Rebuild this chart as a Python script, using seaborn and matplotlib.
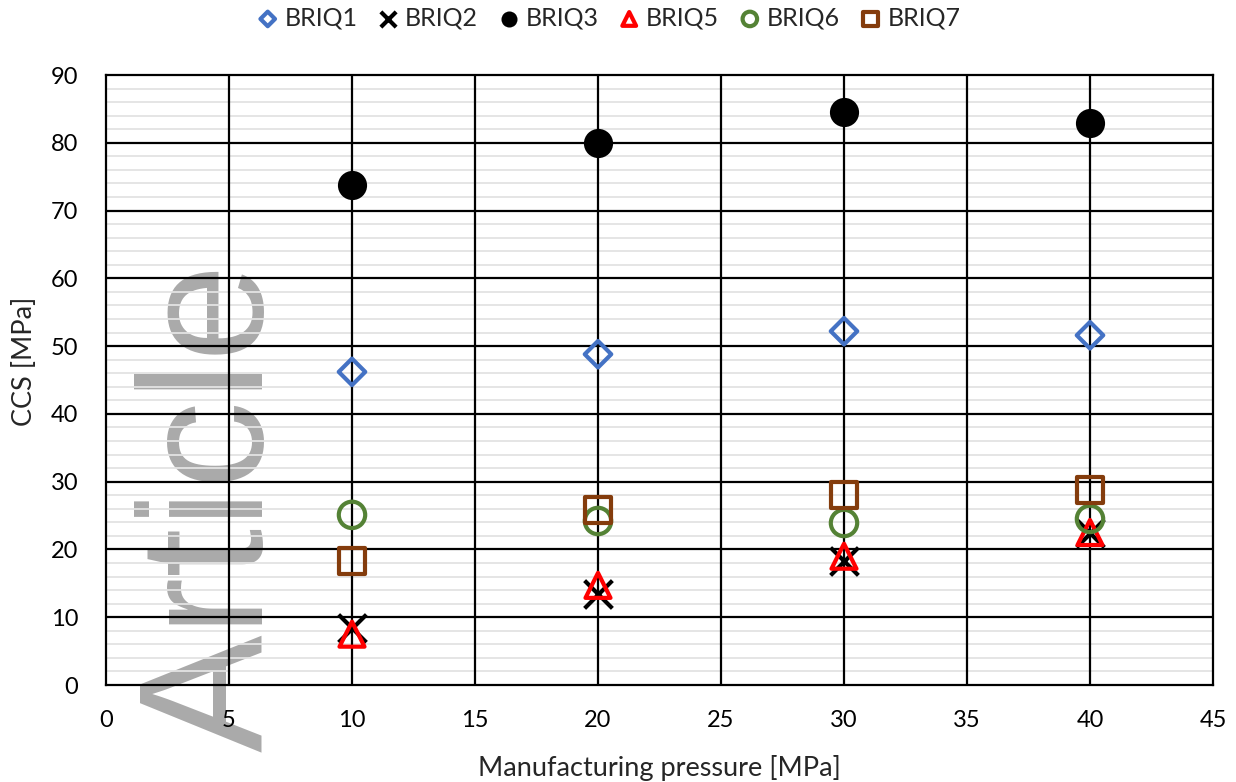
import matplotlib
matplotlib.use("Agg")
import matplotlib.pyplot as plt
import seaborn as sns
from matplotlib.ticker import MultipleLocator

# =========================
# DATA
# =========================
pressure = [10, 20, 30, 40]

briq1 = [46.2, 48.8, 52.2, 51.6]
briq2 = [8.4, 13.4, 18.3, 22.4]
briq3 = [73.8, 79.9, 84.6, 82.9]
briq5 = [7.5, 14.7, 19.0, 22.5]
briq6 = [25.1, 24.2, 23.9, 24.5]
briq7 = [18.3, 25.8, 28.0, 28.8]

series_names = ["BRIQ1", "BRIQ2", "BRIQ3", "BRIQ5", "BRIQ6", "BRIQ7"]
series_values = [briq1, briq2, briq3, briq5, briq6, briq7]

# marker, colour, filled?, size (pt)
styles = {
    "BRIQ1": ("D", "#4472C4", False, 13.5),
    "BRIQ2": ("x", "#000000", None, 20),
    "BRIQ3": ("o", "#000000", True, 21),
    "BRIQ5": ("^", "#FF0000", False, 18),
    "BRIQ6": ("o", "#548235", False, 19),
    "BRIQ7": ("s", "#843C0C", False, 18.5),
}

# =========================
# STYLE
# =========================
sns.set_style("white")
plt.rcParams["font.family"] = ["Lato", "DejaVu Sans"]

fig = plt.figure(figsize=(12.36, 7.82), dpi=100)
ax = fig.add_axes([106 / 1236, 97 / 782, 1107 / 1236, 610 / 782])

for name, vals in zip(series_names, series_values):
    marker, color, filled, ms = styles[name]
    kw = dict(x=pressure, y=vals, marker=marker, s=ms ** 2, ax=ax,
              label=name, zorder=3, clip_on=False)
    if filled is None:
        kw.update(color=color, linewidth=3)
    elif filled:
        kw.update(color=color, edgecolor=color, linewidth=0)
    else:
        kw.update(color=color, facecolor="none", edgecolor=color, linewidth=3)
    sns.scatterplot(**kw)

# =========================
# AXES
# =========================
ax.set_xlim(0, 45)
ax.set_ylim(0, 90)
ax.xaxis.set_major_locator(MultipleLocator(5))
ax.yaxis.set_major_locator(MultipleLocator(10))
ax.yaxis.set_minor_locator(MultipleLocator(2))
ax.set_axisbelow(True)
# light minor grid sits with the axis, black major grid drawn on top of it
ax.grid(which="minor", axis="y", color="#e3e3e3", linewidth=1.3)
ax.grid(which="major", visible=False)
for xv in ax.get_xticks():
    if 0 < xv < 45:
        ax.axvline(xv, color="black", linewidth=1.6, zorder=1)
for yv in ax.get_yticks():
    if 0 < yv < 90:
        ax.axhline(yv, color="black", linewidth=1.6, zorder=1)
for sp in ax.spines.values():
    sp.set_color("black")
    sp.set_linewidth(1.6)
    sp.set_zorder(1)
ax.tick_params(which="both", length=0, labelsize=17, colors="black")
ax.tick_params(axis="y", pad=20)
ax.tick_params(axis="x", pad=18)

ax.set_xlabel("Manufacturing pressure [MPa]", fontsize=19.5, va="center")
ax.set_ylabel("CCS [MPa]", fontsize=19.5, va="center")
ax.xaxis.set_label_coords(0.5, -0.136)
ax.yaxis.set_label_coords(-0.074, 0.53)

# watermark
ax.text(263 / 1236, 30 / 782, "Article", transform=fig.transFigure,
        rotation=90, rotation_mode="anchor", ha="left", va="baseline",
        fontsize=127, family="Liberation Sans", color="#aaaaaa",
        zorder=0.3, clip_on=False)

ax.get_legend().remove()
handles, labels = ax.get_legend_handles_labels()
fig.legend(handles, labels, loc="center", bbox_to_anchor=(0.493, 1 - 18 / 782),
           ncol=6, frameon=False, fontsize=18, markerscale=0.55,
           handlelength=0.75, handletextpad=0.3, columnspacing=0.85,
           borderaxespad=0)

fig.savefig("out.png", dpi=100)
